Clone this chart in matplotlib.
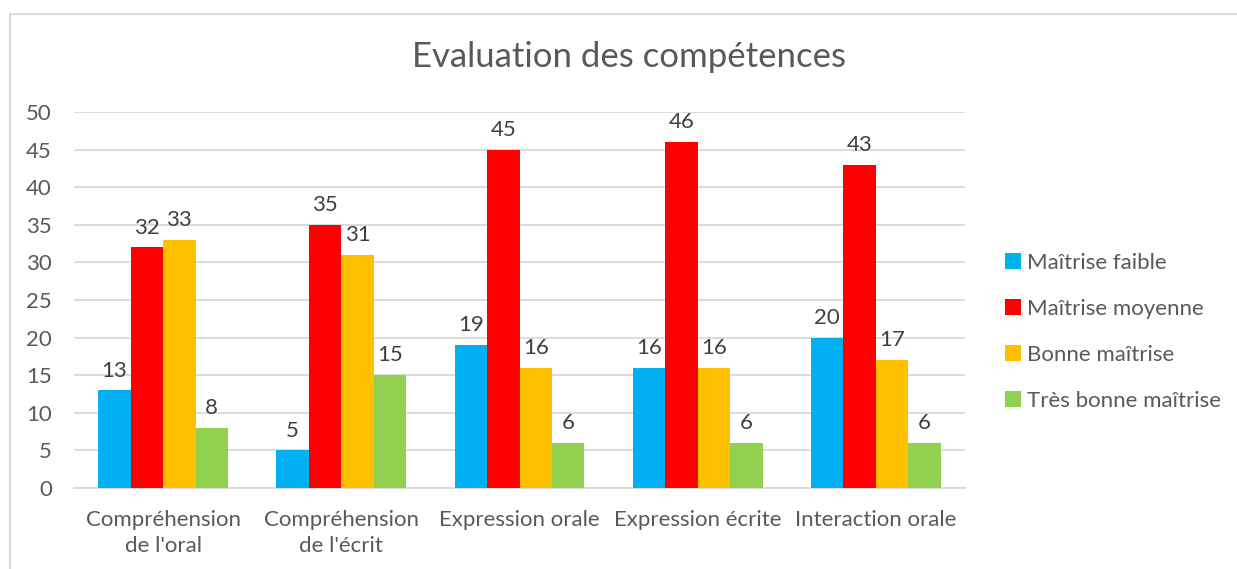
import numpy as np
import matplotlib as mpl
mpl.use("Agg")
from matplotlib import pyplot as plt
from matplotlib.patches import Rectangle

plt.rcParams["font.family"] = ["Lato", "DejaVu Sans"]

categories = ["Compréhension\nde l'oral", "Compréhension\nde l'écrit",
              "Expression orale", "Expression écrite", "Interaction orale"]
series_names = ["Maîtrise faible", "Maîtrise moyenne",
                "Bonne maîtrise", "Très bonne maîtrise"]
faible = [13, 5, 19, 16, 20]
moyenne = [32, 35, 45, 46, 43]
bonne = [33, 31, 16, 16, 17]
tres_bonne = [8, 15, 6, 6, 6]
colors = ["#00B0F0", "#FF0000", "#FFC000", "#92D050"]

W, H = 1237, 569
fig = plt.figure(figsize=(W / 100, H / 100), dpi=100)

# outer chart border
fig.patches.append(Rectangle((10 / W, -0.1), 1.2, 1 - 14 / H + 0.1,
                             transform=fig.transFigure, fill=False,
                             edgecolor="#D9D9D9", linewidth=1.5))

ax = fig.add_axes([74 / W, 1 - 488 / H, (965 - 74) / W, (488 - 112) / H])

x = np.arange(len(categories))
bw = 0.182
fs = 16
handles = []
for i, (vals, col, name) in enumerate(zip([faible, moyenne, bonne, tres_bonne],
                                          colors, series_names)):
    pos = x + (i - 1.5) * bw
    b = ax.bar(pos, vals, width=bw, color=col, label=name, zorder=3)
    handles.append(b)
    for p, v in zip(pos, vals):
        ax.annotate(str(v), (p, v), xytext=(0, 7), textcoords="offset points",
                    ha="center", va="bottom", fontsize=fs, color="#404040")

ax.set_xlim(-0.5, len(categories) - 0.5)
ax.set_ylim(0, 50)
ax.set_yticks(range(0, 51, 5))
ax.set_xticks(x)
ax.set_xticklabels(categories, fontsize=fs, color="#595959", linespacing=1.38)
ax.tick_params(axis="y", labelsize=fs, labelcolor="#595959", length=0, pad=16)
ax.tick_params(axis="x", length=0, pad=16)
ax.yaxis.grid(True, color="#D9D9D9", linewidth=1.3, zorder=0)
for s in ["top", "right", "left"]:
    ax.spines[s].set_visible(False)
ax.spines["bottom"].set_color("#D9D9D9")
ax.spines["bottom"].set_linewidth(1.3)

fig.text(629 / W, 1 - 57 / H, "Evaluation des compétences", ha="center",
         va="center", fontsize=25, color="#595959")

fig.legend(handles=handles, loc="center left", bbox_to_anchor=(985 / W, 1 - 332 / H),
           frameon=False, fontsize=fs, labelcolor="#595959",
           handlelength=0.7, handleheight=0.7, handletextpad=0.3,
           labelspacing=1.17)

fig.savefig("out.png", dpi=100)
